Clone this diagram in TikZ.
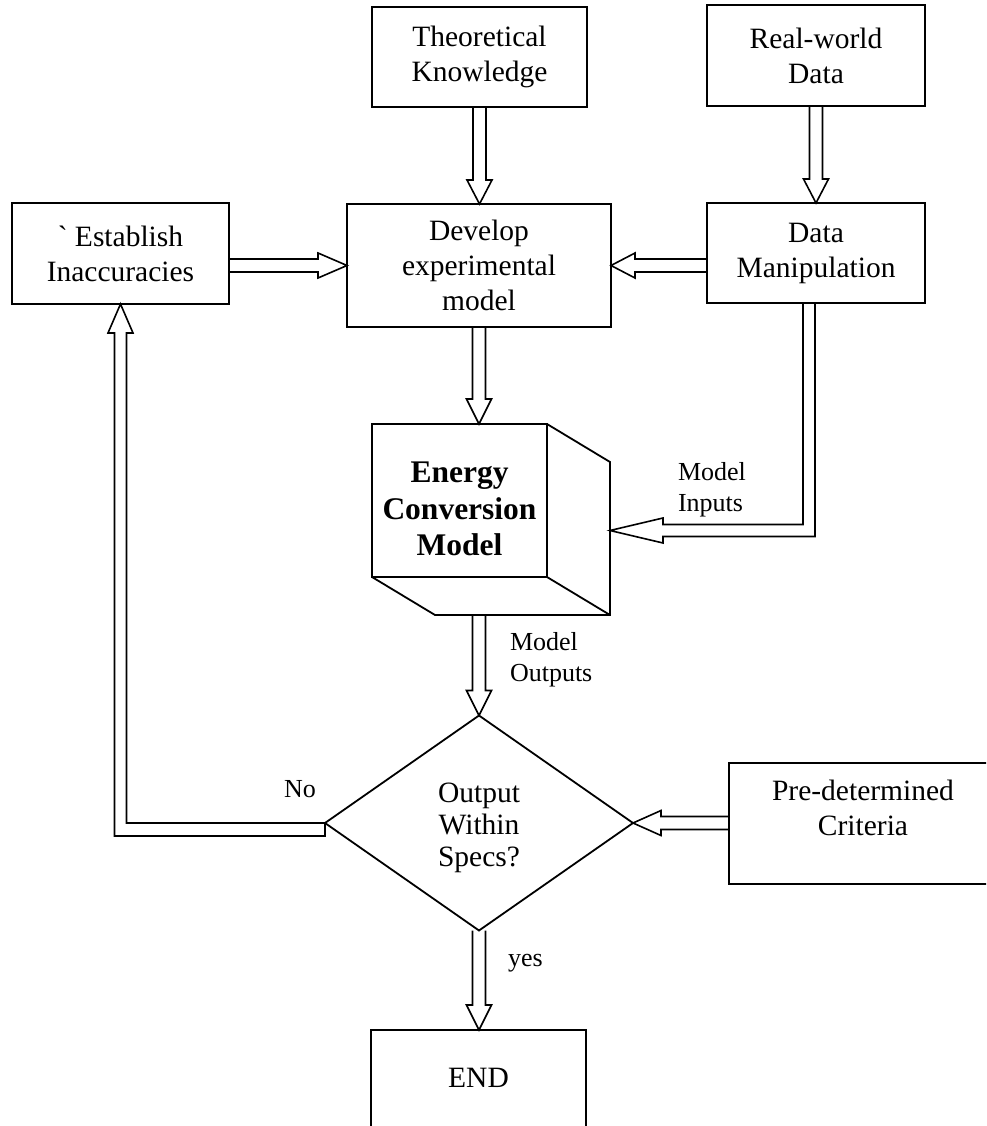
\documentclass[tikz,border=0pt]{standalone}
\usepackage{fontspec}
\setmainfont{Liberation Serif}
\usetikzlibrary{calc,shapes.geometric}

\newcommand\bodyfont{\fontsize{29.5}{35}\selectfont}
\newcommand\diafont{\fontsize{29.5}{32}\selectfont}
\newcommand\cubefont{\bfseries\fontsize{31.5}{36.5}\selectfont}
\newcommand\tagfont{\fontsize{26}{31}\selectfont}

\tikzset{
  box/.style={draw, line width=1.8pt, rectangle, inner sep=0pt, outer sep=0pt,
              align=center, font=\bodyfont},
  plaintext/.style={inner sep=0pt, outer sep=0pt, align=center, font=\bodyfont},
  tag/.style={inner sep=0pt, outer sep=0pt, align=left, font=\tagfont},
  arrowline/.style={draw, line width=1.6pt, line join=miter},
  faceline/.style={draw, line width=1.8pt, line join=miter},
}

% hollow block arrow from #2 to #3, head length #1 (straight connectors)
\newcommand\blockarrow[3][25]{%
  \coordinate (hb) at ($(#3)!#1pt!(#2)$);
  \draw[arrowline] ($(#2)!6.5pt!90:(#3)$) -- ($(hb)!6.5pt!90:(#3)$)
    -- ($(hb)!12.5pt!90:(#3)$) -- (#3) -- ($(hb)!12.5pt!-90:(#3)$)
    -- ($(hb)!6.5pt!-90:(#3)$) -- ($(#2)!6.5pt!-90:(#3)$);
}

\begin{document}
\begin{tikzpicture}[x=1pt, y=-1pt]
\useasboundingbox (0,0) rectangle (986,1126);
\clip (0,0) rectangle (986,1126);

% boxes
\node[box, minimum width=215pt, minimum height=100pt] (theo) at (479.5,57) {Theoretical\\Knowledge};
\node[box, minimum width=218pt, minimum height=101pt] (real) at (816,55.5) {Real-world\\Data};
\node[box, minimum width=217pt, minimum height=101pt] (est) at (120.5,253.5) {\textasciigrave\ Establish\\Inaccuracies};
\node[box, minimum width=264pt, minimum height=123pt] (dev) at (479,265.5) {Develop\\experimental\\model};
\node[box, minimum width=218pt, minimum height=100pt] (data) at (816,253) {Data\\Manipulation};

% cube
\node[box, minimum width=175pt, minimum height=153pt] (cube) at (459.5,500.5) {};
\coordinate (cubeNE) at ($(cube.north east)+(63,38)$);
\coordinate (cubeSE) at ($(cube.south east)+(63,38)$);
\coordinate (cubeSW) at ($(cube.south west)+(63,38)$);
\draw[faceline] (cube.north east) -- (cubeNE) -- (cubeSE) -- (cubeSW) -- (cube.south west);
\draw[faceline] (cube.south east) -- (cubeSE);
\node[plaintext, font=\cubefont] (cubetxt) at (459.5,509) {Energy\\Conversion\\Model};

% decision
\node[draw, diamond, line width=1.8pt, minimum width=308pt, minimum height=215pt,
      aspect=1.43, inner sep=0pt, outer sep=0pt] (dia) at (479,823) {};
\node[plaintext, font=\diafont] (diatxt) at (479,828) {Output\\Within\\Specs?};

\node[box, minimum width=268pt, minimum height=121pt] (crit) at (863,823.5) {};
\node[plaintext] (crittxt) at (863,808) {Pre-determined\\Criteria};

\node[box, minimum width=215pt, minimum height=130pt] (endbox) at (478.5,1095) {};
\node[plaintext] (endtxt) at (478.5,1078) {END};

% labels
\node[tag, anchor=north west] (lblin) at (678,462) {Model\\Inputs};
\node[tag, anchor=north west] (lblout) at (510,632) {Model\\Outputs};
\node[tag, anchor=base west] (lblno) at (284,797) {No};
\node[tag, anchor=base west] (lblyes) at (508,966) {yes};

% straight connectors
\coordinate (t1) at (theo.south |- dev.north);
\blockarrow[24]{theo.south}{t1}
\blockarrow[24]{real.south}{data.north}
\coordinate (s3) at (est.east |- dev.west);
\blockarrow[29]{s3}{dev.west}
\coordinate (s4) at (data.west |- dev.east);
\blockarrow[24]{s4}{dev.east}
\coordinate (t5) at (dev.south |- cube.north);
\blockarrow{dev.south}{t5}
\coordinate (s7) at (dia.north |- cubeSW);
\blockarrow{s7}{dia.north}
\coordinate (s8) at (crit.west |- dia.east);
\blockarrow[28]{s8}{dia.east}
\coordinate (t10) at (dia.south |- endbox.north);
\blockarrow{dia.south}{t10}

% model inputs: down from data manipulation, then left into the cube
\coordinate (minS) at ($(data.south)+(-7,0)$);
\coordinate (minT) at ($(cube.east)+(63,30)$);
\coordinate (minC) at (minS |- minT);
\draw[arrowline] ($(minS)+(6,0)$) -- ($(minC)+(6,6)$) -- ($(minT)+(53,6)$)
  -- ($(minT)+(53,12.5)$) -- (minT) -- ($(minT)+(53,-12.5)$) -- ($(minT)+(53,-6)$)
  -- ($(minC)+(-6,-6)$) -- ($(minS)+(-6,0)$);

% "No" branch: left from the decision, then up to Establish Inaccuracies
\coordinate (noS) at ($(dia.west)+(0,6.5)$);
\coordinate (noC) at (est.south |- noS);
\draw[arrowline] (dia.west) -- ($(noC)+(6,-6.5)$) -- ($(est.south)+(6,29)$)
  -- ($(est.south)+(12.5,29)$) -- (est.south) -- ($(est.south)+(-12.5,29)$)
  -- ($(est.south)+(-6,29)$) -- ($(noC)+(-6,6.5)$) -- ($(noS)+(0,6.5)$) -- cycle;
\end{tikzpicture}
\end{document}
